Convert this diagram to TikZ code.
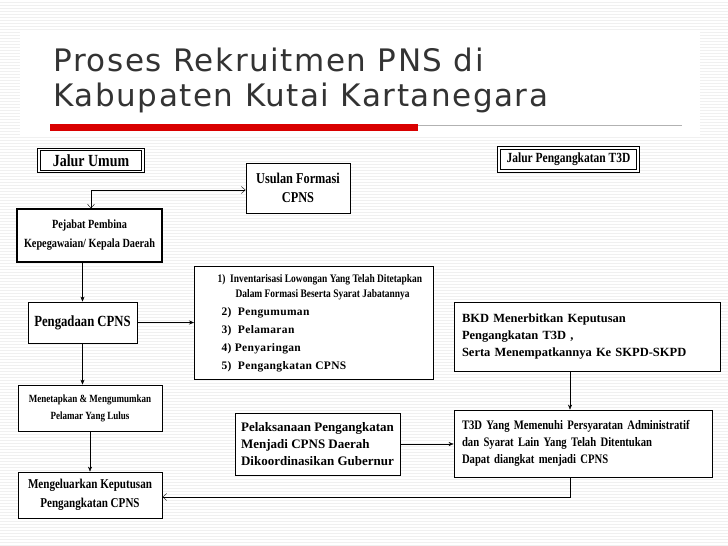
\documentclass[tikz,border=0pt]{standalone}
\usepackage{fontspec}
\setmainfont{Liberation Serif}
\newfontfamily\cond[FakeStretch=0.82]{Liberation Serif}
\newfontfamily\wide[LetterSpace=3]{Liberation Serif}
\newfontfamily\titlefont[LetterSpace=5]{DejaVu Sans}
\usetikzlibrary{arrows.meta}
\newcommand\fsz[2]{\fontsize{#1}{#2}\selectfont}
\begin{document}
\begin{tikzpicture}[x=1pt,y=-1pt,
  box/.style={draw,thick,fill=white,align=center,inner sep=2pt},
  dbl/.style={box,double,double distance=1.5pt},
  conn/.style={draw,-{Stealth[length=5pt,width=4pt]}},
  oconn/.style={draw,-{Straight Barb[length=4pt,width=7pt]}}]
\useasboundingbox (0,0) rectangle (728,546);
\fill[white] (0,0) rectangle (728,546);
\foreach \y in {2,5,...,546} \draw[gray!12,line width=0.8pt] (0,\y) -- (728,\y);
\fill[white] (20,30) rectangle (700,135);
\node[anchor=west,font=\titlefont\fsz{31}{33},text=black!80] (t1) at (50,60) {Proses Rekruitmen PNS di};
\node[anchor=west,font=\titlefont\fsz{31}{33},text=black!80] (t2) at (50,98) {Kabupaten Kutai Kartanegara};
\fill[red!85!black] (50,124) rectangle (418,131);
\draw[gray!60] (418,125) -- (682,125);

\node[dbl,minimum width=104pt,minimum height=22pt,font=\cond\bfseries\fsz{17}{18}] (ju) at (91,160.5) {Jalur Umum};
\node[dbl,minimum width=139pt,minimum height=23pt,font=\cond\bfseries\fsz{14}{16}] (jt) at (568.5,159.5) {Jalur Pengangkatan T3D};
\node[box,minimum width=104pt,minimum height=50pt,font=\cond\bfseries\fsz{15}{19}] (us) at (298,188) {Usulan Formasi\\CPNS};
\node[box,very thick,minimum width=145pt,minimum height=53pt,font=\cond\bfseries\fsz{12.5}{19}] (pj) at (89.5,235.5) {Pejabat Pembina\\Kepegawaian/ Kepala Daerah};
\node[box,minimum width=109pt,minimum height=41pt,font=\cond\bfseries\fsz{15.5}{18}] (pc) at (82.5,322.5) {Pengadaan CPNS};
\node[box,minimum width=239pt,minimum height=113pt,align=left,anchor=north west,font=\wide\bfseries\fsz{11.5}{18}] (ls) at (194,266) {\hspace*{12pt}{\cond\fsz{11.5}{12}1)\ \ Inventarisasi Lowongan Yang Telah Ditetapkan}\\[-3pt]
\hspace*{30pt}{\cond\fsz{11.5}{12}Dalam Formasi Beserta Syarat Jabatannya}\\
\hspace*{16pt}2)\ \ Pengumuman\\
\hspace*{16pt}3)\ \ Pelamaran\\
\hspace*{16pt}4) Penyaringan\\
\hspace*{16pt}5)\ \ Pengangkatan CPNS};
\node[box,minimum width=144pt,minimum height=46pt,font=\cond\bfseries\fsz{11}{17}] (me) at (90,408) {Menetapkan \& Mengumumkan\\Pelamar Yang Lulus};
\node[box,minimum width=144pt,minimum height=46pt,font=\cond\bfseries\fsz{13.5}{19}] (mk) at (90,495) {Mengeluarkan Keputusan\\Pengangkatan CPNS};
\node[box,minimum width=165pt,minimum height=62pt,align=left,font=\bfseries\fsz{13}{17}] (pl) at (317.5,444) {Pelaksanaan Pengangkatan\\Menjadi CPNS Daerah\\Dikoordinasikan Gubernur};
\node[box,minimum height=69pt,text width=250pt,inner xsep=8pt,align=left,font=\bfseries\fsz{12.5}{17}] (bkd) at (587,336.5) {BKD Menerbitkan Keputusan\\Pengangkatan T3D ,\\Serta Menempatkannya Ke SKPD-SKPD};
\node[box,minimum height=67pt,text width=242pt,inner xsep=8pt,align=left,font=\cond\bfseries\fsz{13}{17}] (t3) at (583,443.5) {\mbox{T3D Yang Memenuhi Persyaratan Administratif}\\dan Syarat Lain Yang Telah Ditentukan\\Dapat diangkat menjadi CPNS};

\coordinate (c1) at (91,190);
\draw[{Straight Barb[length=4pt,width=7pt]}-{Straight Barb[length=4pt,width=7pt]}] (pj.north -| c1) -- (c1) -- (us.west |- c1);
\path[conn] (pj.south -| pc.north) -- (pc.north);
\path[conn] (pc.east) -- (ls.west |- pc.east);
\path[conn] (pc.south) -- (pc.south |- me.north);
\path[conn] (me.south) -- (mk.north);
\path[conn] (pl.east) -- (t3.west |- pl.east);
\path[conn] (bkd.south -| 570,0) -- (t3.north -| 570,0);
\coordinate (c2) at (570,497);
\path[oconn] (t3.south -| c2) -- (c2) -- (mk.east |- c2);
\end{tikzpicture}
\end{document}
